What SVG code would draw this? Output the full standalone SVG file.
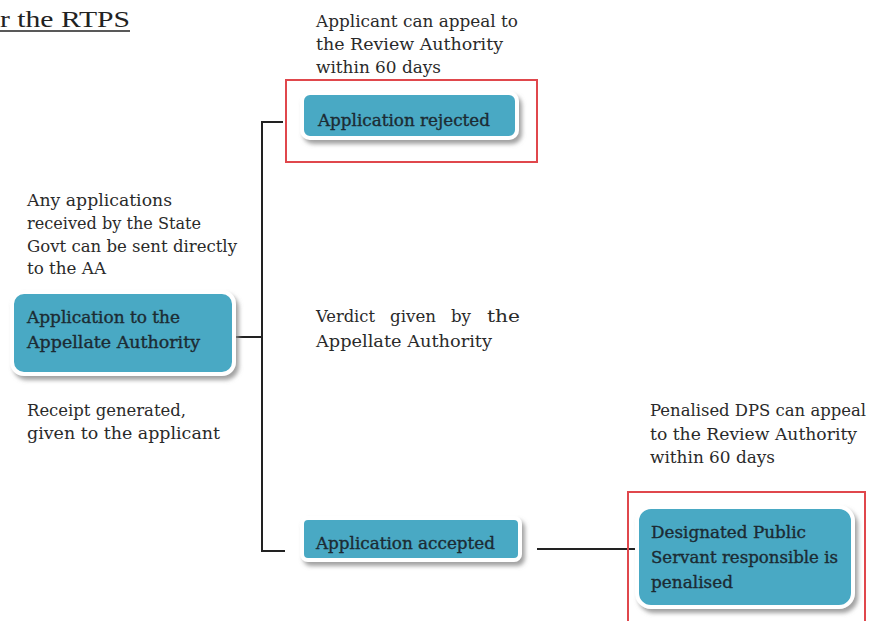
<svg xmlns="http://www.w3.org/2000/svg" width="869" height="621" viewBox="0 0 869 621">
<style>
.t{font-family:"DejaVu Serif","Liberation Serif",serif;font-size:16px;fill:#2a2a2a}
.b{font-family:"DejaVu Serif","Liberation Serif",serif;font-size:16px;fill:#1c2b33;stroke:#1c2b33;stroke-width:0.35}
.box{fill:#4aa9c4;stroke:#ffffff;stroke-width:4;filter:url(#sh)}
.red{fill:none;stroke:#e0474c;stroke-width:2}
.ln{stroke:#222;stroke-width:2;fill:none}
</style>
<defs>
<filter id="sh" x="-10%" y="-20%" width="125%" height="150%">
<feDropShadow dx="3" dy="4" stdDeviation="2" flood-color="#8a8a8a" flood-opacity="0.8"/>
</filter>
</defs>
<rect width="869" height="621" fill="#ffffff"/>
<g id="title">
<text x="0" y="27" style="font-family:'Liberation Serif',serif;font-size:24px;fill:#222" textLength="130" lengthAdjust="spacingAndGlyphs">r the RTPS</text>
<line x1="0" y1="31" x2="130" y2="31" stroke="#222" stroke-width="1.5"/>
</g>
<g id="connectors">
<polyline class="ln" points="283,122 262,122 262,551 285,551"/>
<line class="ln" x1="236" y1="337" x2="262" y2="337"/>
<line class="ln" x1="537" y1="549" x2="636" y2="549"/>
</g>
<g id="note-top">
<text class="t" x="316" y="27" textLength="202" lengthAdjust="spacingAndGlyphs">Applicant can appeal to</text>
<text class="t" x="316" y="50" textLength="187" lengthAdjust="spacingAndGlyphs">the Review Authority</text>
<text class="t" x="316" y="73" textLength="125" lengthAdjust="spacingAndGlyphs">within 60 days</text>
</g>
<g id="rejected">
<rect class="red" x="286" y="80" width="251" height="82"/>
<rect class="box" x="302" y="93" width="215" height="45" rx="8"/>
<text class="b" x="318" y="126" textLength="172" lengthAdjust="spacingAndGlyphs">Application rejected</text>
</g>
<g id="note-left">
<text class="t" x="27" y="206" textLength="145" lengthAdjust="spacingAndGlyphs">Any applications</text>
<text class="t" x="27" y="229" textLength="174" lengthAdjust="spacingAndGlyphs">received by the State</text>
<text class="t" x="27" y="252" textLength="210" lengthAdjust="spacingAndGlyphs">Govt can be sent directly</text>
<text class="t" x="27" y="274" textLength="79" lengthAdjust="spacingAndGlyphs">to the AA</text>
</g>
<g id="appellate">
<rect class="box" x="12" y="292" width="222" height="82" rx="12"/>
<text class="b" x="27" y="323" textLength="153" lengthAdjust="spacingAndGlyphs">Application to the</text>
<text class="b" x="27" y="348" textLength="173" lengthAdjust="spacingAndGlyphs">Appellate Authority</text>
</g>
<g id="note-verdict">
<text class="t" y="322"><tspan x="316" textLength="59" lengthAdjust="spacingAndGlyphs">Verdict</tspan><tspan x="390" textLength="46" lengthAdjust="spacingAndGlyphs">given</tspan><tspan x="451" textLength="20" lengthAdjust="spacingAndGlyphs">by</tspan><tspan x="487" textLength="33" lengthAdjust="spacingAndGlyphs">the</tspan></text>
<text class="t" x="316" y="347" textLength="176" lengthAdjust="spacingAndGlyphs">Appellate Authority</text>
</g>
<g id="note-receipt">
<text class="t" x="27" y="416" textLength="159" lengthAdjust="spacingAndGlyphs">Receipt generated,</text>
<text class="t" x="27" y="439" textLength="193" lengthAdjust="spacingAndGlyphs">given to the applicant</text>
</g>
<g id="note-penalised">
<text class="t" x="650" y="416" textLength="216" lengthAdjust="spacingAndGlyphs">Penalised DPS can appeal</text>
<text class="t" x="650" y="440" textLength="207" lengthAdjust="spacingAndGlyphs">to the Review Authority</text>
<text class="t" x="650" y="463" textLength="125" lengthAdjust="spacingAndGlyphs">within 60 days</text>
</g>
<g id="accepted">
<rect class="box" x="302" y="518" width="218" height="42" rx="6"/>
<text class="b" x="316" y="549" textLength="179" lengthAdjust="spacingAndGlyphs">Application accepted</text>
</g>
<g id="dps">
<polyline class="red" points="628,622 628,492 865,492 865,622"/>
<rect class="box" x="637" y="507" width="216" height="100" rx="14"/>
<text class="b" x="651" y="538" textLength="155" lengthAdjust="spacingAndGlyphs">Designated Public</text>
<text class="b" x="651" y="563" textLength="187" lengthAdjust="spacingAndGlyphs">Servant responsible is</text>
<text class="b" x="651" y="588" textLength="82" lengthAdjust="spacingAndGlyphs">penalised</text>
</g>
</svg>
